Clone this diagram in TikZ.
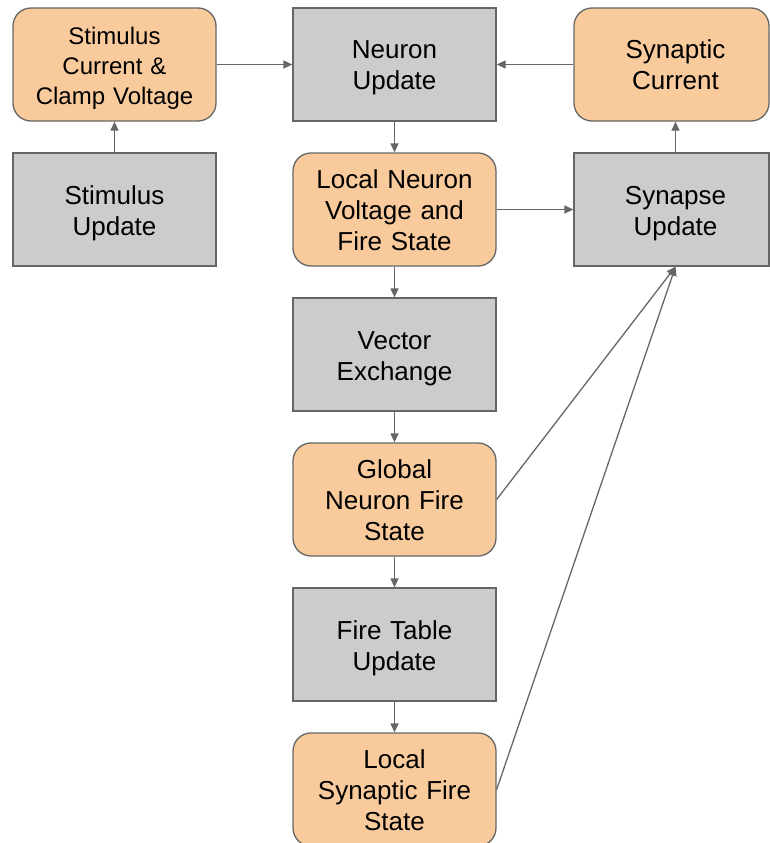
\documentclass[tikz,border=0pt]{standalone}
\usepackage{fontspec}
\setmainfont{Liberation Sans}
\usetikzlibrary{arrows.meta}
\definecolor{peach}{HTML}{F9CB9C}
\definecolor{panel}{HTML}{CCCCCC}
\definecolor{edge}{HTML}{666666}

\begin{document}
\begin{tikzpicture}[x=1pt,y=-1pt,
  box/.style={draw=edge, line width=1.3pt, minimum width=203pt, minimum height=113pt,
    align=center, inner sep=0pt, text width=200pt, font=\fontsize{26}{31}\selectfont,
    execute at begin node={\rule{0pt}{26pt}},
    execute at end node={\rule[-6pt]{0pt}{0pt}}},
  narrow/.style={minimum width=195pt, text width=192pt},
  state/.style={box, fill=peach, rounded corners=18pt},
  proc/.style={box, fill=panel},
  link/.style={draw=edge, line width=1.3pt, -{Triangle[length=9pt,width=8pt]}}]
\useasboundingbox (0,0) rectangle (770,843);
\clip (0,0) rectangle (770,843);

% top row
\node[state, font=\fontsize{24}{30}\selectfont] (stimcur) at (114.5,64.5) {Stimulus\\Current \&\\Clamp Voltage};
\node[proc] (neuron) at (394.5,64.5) {Neuron\\Update};
\node[state, narrow] (syncur) at (671.5,64.5) {\hspace*{8pt}Synaptic\\\hspace*{8pt}Current};

% second row
\node[proc] (stimupd) at (114.5,209.5) {Stimulus\\Update};
\node[state] (localn) at (394.5,209.5) {Local Neuron\\Voltage and\\Fire State};
\node[proc, narrow] (synupd) at (671.5,209.5) {\hspace*{8pt}Synapse\\\hspace*{8pt}Update};

% central column
\node[proc] (vecx) at (394.5,354.5) {Vector\\Exchange};
\node[state] (global) at (394.5,499.5) {Global\\Neuron Fire\\State};
\node[proc] (firetab) at (394.5,644.5) {Fire Table\\Update};
\node[state] (localsyn) at (394.5,789.5) {Local\\Synaptic Fire\\State};

% connectors
\draw[link] (stimcur.east) -- (neuron.west);
\draw[link] (syncur.west) -- (neuron.east);
\draw[link] (stimupd.north) -- (stimcur.south);
\draw[link] (neuron.south) -- (localn.north);
\draw[link] (localn.east) -- (synupd.west);
\draw[link] ([xshift=4pt]synupd.north) -- ([xshift=4pt]syncur.south);
\draw[link] (localn.south) -- (vecx.north);
\draw[link] (vecx.south) -- (global.north);
\draw[link] (global.south) -- (firetab.north);
\draw[link] (firetab.south) -- (localsyn.north);
\draw[link] (global.east) -- ([xshift=4pt]synupd.south);
\draw[link] (localsyn.east) -- ([xshift=4pt]synupd.south);
\end{tikzpicture}
\end{document}
